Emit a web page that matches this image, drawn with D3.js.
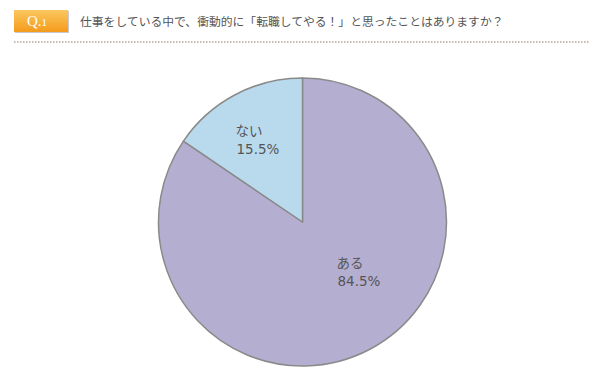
<!DOCTYPE html>
<html>
<head>
<meta charset="utf-8">
<script src="https://cdn.jsdelivr.net/npm/d3@7"></script>
<style>
body { margin: 0; background: #fff; }
svg { display: block; }
</style>
</head>
<body>
<svg id="chart" width="600" height="375"></svg>
<script>
var labels = ["ある", "ない"];
var values = [84.5, 15.5];
var colors = ["#b4aed0", "#b9daed"];
var title = "仕事をしている中で、衝動的に「転職してやる！」と思ったことはありますか？";

var svg = d3.select("#chart");
var font = "'Noto Sans CJK JP', sans-serif";

// header badge
var defs = svg.append("defs");
var grad = defs.append("linearGradient").attr("id", "badge").attr("x1", 0).attr("y1", 0).attr("x2", 0).attr("y2", 1);
grad.append("stop").attr("offset", "0%").attr("stop-color", "#fcc760");
grad.append("stop").attr("offset", "100%").attr("stop-color", "#f49b1c");

svg.append("rect").attr("x", 15).attr("y", 11).attr("width", 54).attr("height", 22).attr("fill", "#c8c8d0");
svg.append("rect").attr("x", 14).attr("y", 10).attr("width", 54).attr("height", 22).attr("fill", "url(#badge)");
var q = svg.append("text")
    .attr("x", 27).attr("y", 26)
    .style("font-family", "'Liberation Serif', serif")
    .style("fill", "#fff");
q.append("tspan").style("font-size", "15px").text("Q.");
q.append("tspan").style("font-size", "11px").text("1");

svg.append("text")
    .attr("x", 80).attr("y", 26)
    .style("font-family", font)
    .style("font-size", "11.8px")
    .style("fill", "#555")
    .text(title);

svg.append("line")
    .attr("x1", 14).attr("x2", 590)
    .attr("y1", 42).attr("y2", 42)
    .attr("stroke", "#b5a496")
    .attr("stroke-width", 1.5)
    .attr("stroke-dasharray", "1.5,1.5");

// pie
var cx = 302.5, cy = 222, radius = 144;
var pie = d3.pie().sort(null).value(function (d) { return d; });
var arc = d3.arc().innerRadius(0).outerRadius(radius);
var arcs = pie(values);

var g = svg.append("g").attr("transform", "translate(" + cx + "," + cy + ")");
g.selectAll("path")
    .data(arcs)
    .enter()
    .append("path")
    .attr("d", arc)
    .attr("fill", function (d, i) { return colors[i]; })
    .attr("stroke", "#8a8a8a")
    .attr("stroke-width", 1.5)
    .attr("stroke-linejoin", "round");

var labelPos = [[34, 46], [-67, -86]];
g.selectAll("text.name")
    .data(arcs)
    .enter()
    .append("text")
    .attr("class", "name")
    .attr("x", function (d, i) { return labelPos[i][0]; })
    .attr("y", function (d, i) { return labelPos[i][1]; })
    .style("font-family", font)
    .style("font-size", "13.5px")
    .style("fill", "#555")
    .text(function (d, i) { return labels[i]; });
g.selectAll("text.pct")
    .data(arcs)
    .enter()
    .append("text")
    .attr("class", "pct")
    .attr("x", function (d, i) { return labelPos[i][0] + 1; })
    .attr("y", function (d, i) { return labelPos[i][1] + 18; })
    .style("font-family", "'DejaVu Sans', sans-serif")
    .style("font-size", "13.5px")
    .style("fill", "#555")
    .text(function (d, i) { return values[i].toFixed(1) + "%"; });
</script>
</body>
</html>
